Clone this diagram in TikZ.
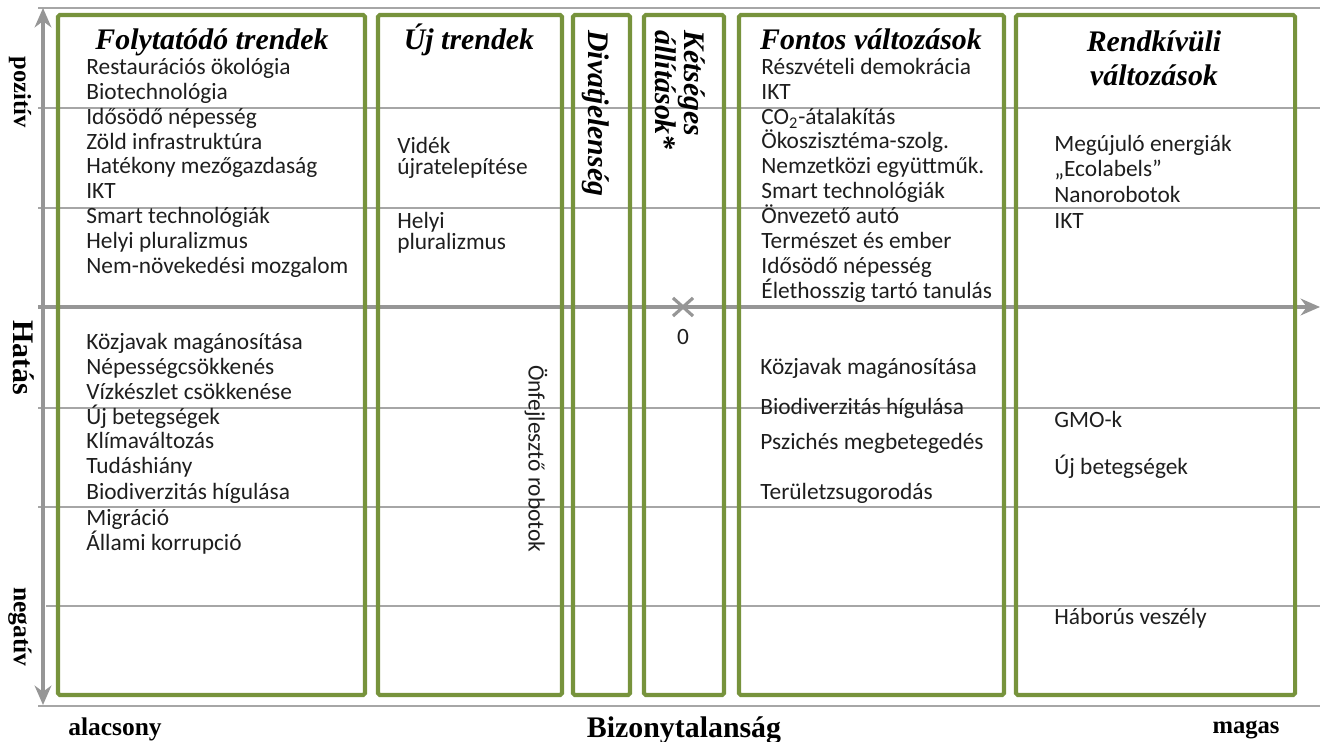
\documentclass[tikz,border=0pt]{standalone}
\usepackage{fontspec}
\setmainfont{Carlito}
\newfontfamily\headfont{Liberation Serif}
\usepackage{tikz}
\usepackage{xcolor}
\usetikzlibrary{arrows.meta,shapes.misc}
\definecolor{trendgreen}{RGB}{119,147,60}
\definecolor{gridgray}{RGB}{166,166,166}
\definecolor{axisgray}{RGB}{150,150,150}
\definecolor{textblack}{RGB}{30,30,30}

\begin{document}
\begin{tikzpicture}[x=0.02cm, y=-0.02cm,
    >={Stealth[length=11pt,width=9.5pt,inset=3.5pt]},
    gridline/.style={draw=gridgray, line width=0.8pt},
    axisline/.style={draw=axisgray, line width=1.8pt},
    trendbox/.style={draw=trendgreen, line width=2.3pt, rounded corners=1pt},
    item/.style={anchor=base west, inner sep=0pt, text=textblack, font=\fontsize{13.3}{14.2}\selectfont},
    head/.style={anchor=base, inner sep=0pt, font=\headfont\bfseries\itshape\fontsize{17}{19}\selectfont},
    axislabel/.style={inner sep=0pt, font=\headfont\bfseries\fontsize{14}{16}\selectfont}]
\useasboundingbox (0,0) rectangle (1327,742);

\draw [gridline] (38,8) -- (1320,8);
\draw [gridline] (38,108) -- (1320,108);
\draw [gridline] (38,208) -- (1320,208);
\draw [gridline] (38,408) -- (1320,408);
\draw [gridline] (38,507) -- (1320,507);
\draw [gridline] (46,606) -- (1320,606);
\draw [gridline] (38,706) -- (1320,706);

\coordinate (ytop) at (43,8);
\coordinate (ybot) at (43,705);
\coordinate (xleft) at (38,307);
\coordinate (xright) at (1320,307);
\draw [axisline, <->] (ybot) -- (ytop);
\draw [axisline, ->] (xleft) -- (xright);

\draw [trendbox] (58,15) rectangle (365,695);
\draw [trendbox] (378,15) rectangle (562,695);
\draw [trendbox] (573,15) rectangle (630,695);
\draw [trendbox] (644,15) rectangle (724,695);
\draw [trendbox] (739,15) rectangle (1004,695);
\draw [trendbox] (1016,15) rectangle (1295,695);

	\node [head] (folyt) at (212,50) {Folytatódó trendek};
	\node [head] (ujtr) at (469,50) {Új trendek};
	\node [head, anchor=west, rotate=-90] (divat) at (596,30) {Divatjelenség};
	\node [head, anchor=west, rotate=-90, align=left, font=\headfont\bfseries\itshape\fontsize{17}{14.2}\selectfont] (ketseg) at (680,30) {Kétséges\\állítások*};
	\node [head] (fontos) at (871,50) {Fontos változások};
	\node [head, anchor=north, align=center, font=\headfont\bfseries\itshape\fontsize{17}{19.3}\selectfont] (rendk) at (1154,30) {Rendkívüli\\változások};

	\node [axislabel, rotate=-90] (poz) at (20,92) {pozitív};
	\node [axislabel, rotate=-90, font=\headfont\bfseries\fontsize{17}{19}\selectfont] (hatas) at (24,358) {Hatás};
	\node [axislabel, rotate=-90, font=\headfont\bfseries\fontsize{14.5}{16}\selectfont] (neg) at (20,627) {negatív};
	\node [axislabel, anchor=base, font=\headfont\bfseries\fontsize{14.5}{16}\selectfont] (alacs) at (115,735) {alacsony};
	\node [axislabel, anchor=base, font=\headfont\bfseries\fontsize{17}{19}\selectfont] (bizony) at (684,737) {Bizonytalanság};
	\node [axislabel, anchor=base] (magas) at (1246,733) {magas};

	\node [cross out, draw=axisgray, line width=1.8pt, minimum width=9.6pt, minimum height=8.5pt, inner sep=0pt] (orig) at (683,307) {};
	\node [item, anchor=base] (zero) at (683,345) {0};

	\node [item] (fol1) at (86,75) {Restaurációs ökológia};
	\node [item] (fol2) at (86,100) {Biotechnológia};
	\node [item] (fol3) at (86,125) {Idősödő népesség};
	\node [item] (fol4) at (86,150) {Zöld infrastruktúra};
	\node [item] (fol5) at (86,174) {Hatékony mezőgazdaság};
	\node [item] (fol6) at (86,199) {IKT};
	\node [item] (fol7) at (86,224) {Smart technológiák};
	\node [item] (fol8) at (86,249) {Helyi pluralizmus};
	\node [item] (fol9) at (86,274) {Nem-növekedési mozgalom};
	\node [item] (fol10) at (86,350) {Közjavak magánosítása};
	\node [item] (fol11) at (86,375) {Népességcsökkenés};
	\node [item] (fol12) at (86,400) {Vízkészlet csökkenése};
	\node [item] (fol13) at (86,425) {Új betegségek};
	\node [item] (fol14) at (86,449) {Klímaváltozás};
	\node [item] (fol15) at (86,474) {Tudáshiány};
	\node [item] (fol16) at (86,500) {Biodiverzitás hígulása};
	\node [item] (fol17) at (86,525) {Migráció};
	\node [item] (fol18) at (86,550) {Állami korrupció};

	\node [item] (uj1) at (397,154) {Vidék};
	\node [item] (uj2) at (397,175) {újratelepítése};
	\node [item] (uj3) at (397,229) {Helyi};
	\node [item] (uj4) at (397,250) {pluralizmus};
	\node [item, anchor=west, rotate=-90] (onfejl) at (536,365) {Önfejlesztő robotok};

	\node [item] (fon1) at (761,75) {Részvételi demokrácia};
	\node [item] (fon2) at (761,100) {IKT};
	\node [item] (fon3) at (761,125) {CO\textsubscript{2}-átalakítás};
	\node [item] (fon4) at (761,149) {Ökoszisztéma-szolg.};
	\node [item] (fon5) at (761,174) {Nemzetközi együttműk.};
	\node [item] (fon6) at (761,199) {Smart technológiák};
	\node [item] (fon7) at (761,224) {Önvezető autó};
	\node [item] (fon8) at (761,249) {Természet és ember};
	\node [item] (fon9) at (761,274) {Idősödő népesség};
	\node [item] (fon10) at (761,299) {Élethosszig tartó tanulás};
	\node [item] (fon11) at (760,375) {Közjavak magánosítása};
	\node [item] (fon12) at (760,415) {Biodiverzitás hígulása};
	\node [item] (fon13) at (760,450) {Pszichés megbetegedés};
	\node [item] (fon14) at (760,500) {Területzsugorodás};

	\node [item] (ren1) at (1054,152) {Megújuló energiák};
	\node [item] (ren2) at (1054,177) {„Ecolabels”};
	\node [item] (ren3) at (1054,203) {Nanorobotok};
	\node [item] (ren4) at (1054,229) {IKT};
	\node [item] (ren5) at (1054,428) {GMO-k};
	\node [item] (ren6) at (1054,475) {Új betegségek};
	\node [item] (ren7) at (1054,624) {Háborús veszély};

\end{tikzpicture}
\end{document}
